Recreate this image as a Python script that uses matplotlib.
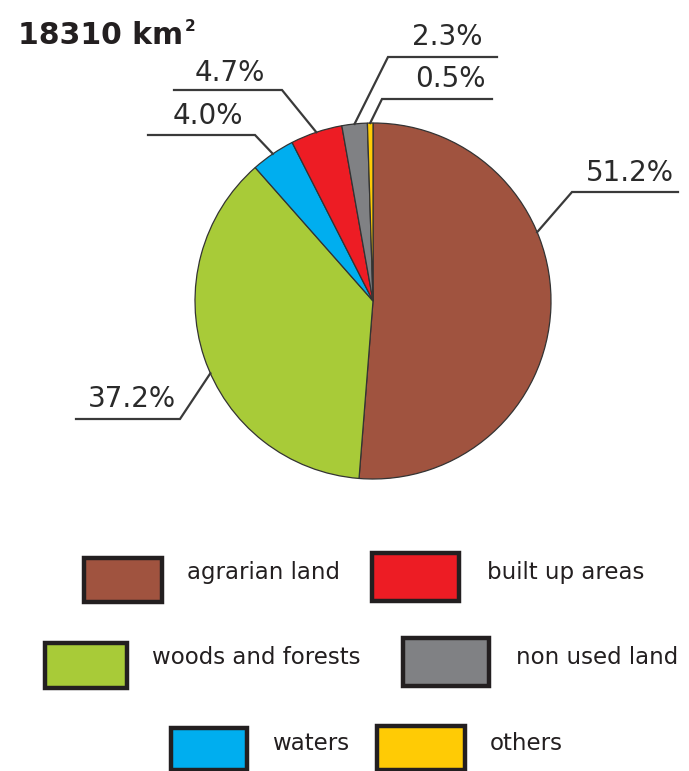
import matplotlib
matplotlib.use("Agg")
import matplotlib.pyplot as plt
from matplotlib.patches import Rectangle
import numpy as np

# data
categories = ["agrarian land", "woods and forests", "waters", "built up areas", "non used land", "others"]
shares = [51.2, 37.2, 4.0, 4.7, 2.3, 0.5]
labels = ["51.2%", "37.2%", "4.0%", "4.7%", "2.3%", "0.5%"]
colors = ["#A0533F", "#A8CB38", "#00AEEF", "#ED1C24", "#808184", "#FFCB05"]
total_area = "18310 km"

W, H = 689, 771


def py(y):
    # pixel row (top-down) -> data y (bottom-up)
    return H - y


fig = plt.figure(figsize=(W / 100, H / 100), dpi=100)
ax = fig.add_axes([0, 0, 1, 1])

cx, cy, r = 373, py(301), 178
wedges, _ = ax.pie(shares, colors=colors, startangle=90, counterclock=False,
                   center=(cx, cy), radius=r,
                   wedgeprops=dict(edgecolor="#333333", linewidth=0.9))

ax.set_xlim(0, W)
ax.set_ylim(0, H)
ax.set_aspect("equal")
ax.axis("off")

# leader lines: angle offset from slice middle, knee point, end of underline, text centre
angle_shift = [25, 5.5, 0, 0, 0, 0]
knees = [(572, 192), (180, 419), (255, 135), (282, 90), (388, 57), (382, 99)]
ends = [678, 76, 148, 174, 497, 492]
text_pos = [(630, 173), (132, 399), (208, 116), (230, 73), (447, 37), (450, 79)]

line_col = "#3a3a3a"
for w, lab, sh, (kx, ky), ex, (tx, ty) in zip(wedges, labels, angle_shift, knees, ends, text_pos):
    ang = np.deg2rad((w.theta1 + w.theta2) / 2 + sh)
    ax0 = cx + r * np.cos(ang)
    ay0 = cy + r * np.sin(ang)
    ax.plot([ax0, kx, ex], [ay0, py(ky), py(ky)], color=line_col, lw=1.6,
            solid_joinstyle="miter")
    ax.text(tx, py(ty), lab, ha="center", va="center", fontsize=20,
            color="#2a2a2a", family="DejaVu Sans")

# title with superscript right after it
title = ax.text(18, py(36), total_area, ha="left", va="center", fontsize=21.5,
                fontweight="bold", color="#231F20", family="DejaVu Sans")
ax.annotate("2", xy=(1, 1), xycoords=title, xytext=(1.5, 2), textcoords="offset points",
            ha="left", va="top", fontsize=11, fontweight="bold", color="#231F20",
            family="DejaVu Sans")

# legend boxes (x0, y0, x1, y1 in pixels) and text positions
boxes = [(84, 558, 162, 602), (45, 643, 127, 688), (171, 728, 247, 770),
         (372, 553, 459, 601), (403, 638, 489, 686), (377, 726, 465, 770)]
text_x = [187, 152, 272, 487, 516, 490]
text_y = [573, 658, 743, 573, 658, 743]

for (x0, y0, x1, y1), col, name, lx, ly in zip(boxes, colors, categories, text_x, text_y):
    ax.add_patch(Rectangle((x0, py(y1)), x1 - x0, y1 - y0, facecolor=col,
                           edgecolor="#231F20", linewidth=3.2, joinstyle="miter"))
    ax.text(lx, py(ly), name, ha="left", va="center", fontsize=16.5,
            color="#231F20", family="DejaVu Sans")

fig.savefig("out.png", dpi=100)
